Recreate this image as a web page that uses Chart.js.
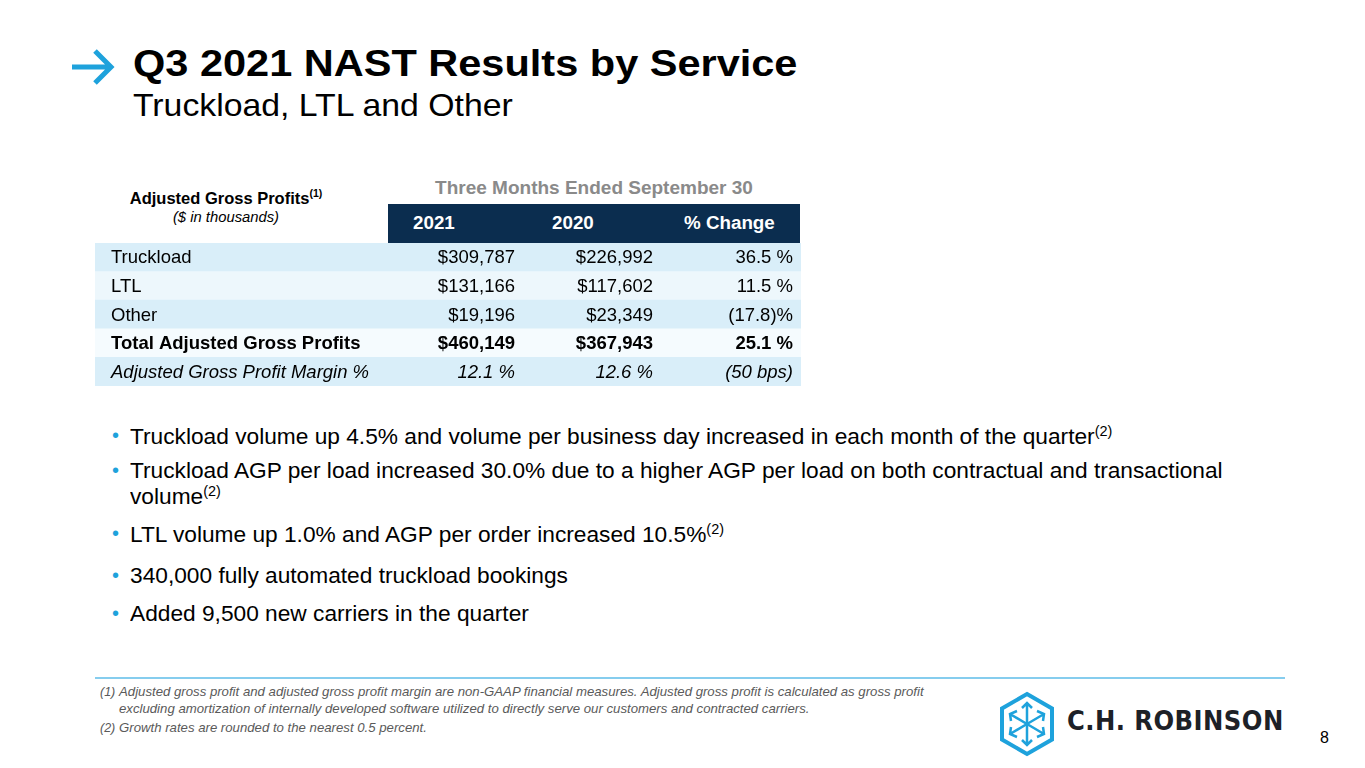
<!DOCTYPE html>
<html lang="en">
<head>
    <meta charset="UTF-8">
    <title>Q3 2021 NAST Results by Service</title>
    <script src="https://cdn.jsdelivr.net/npm/chart.js@4.4.1/dist/chart.umd.min.js"></script>
    <style>
        body {
            margin: 0;
            width: 1365px;
            height: 768px;
            background: #ffffff;
            font-family: "Liberation Sans", Arial, sans-serif;
            color: #000;
            position: relative;
            overflow: hidden;
        }
        .abs { position: absolute; white-space: nowrap; }
        .wide { transform-origin: left center; }
        .title { left: 133px; top: 43px; font-size: 36px; font-weight: bold; transform: scaleX(1.153); }
        .subtitle { left: 133px; top: 88px; font-size: 30.5px; transform: scaleX(1.107); }
        .hdr-left { left: 95px; width: 262px; text-align: center; top: 187px; font-size: 16.5px; font-weight: bold; }
        .hdr-left sup { font-size: 10.5px; }
        .hdr-sub { left: 95px; width: 262px; text-align: center; top: 209px; font-size: 14.8px; font-style: italic; }
        .hdr-top { left: 388px; width: 412px; text-align: center; top: 177px; font-size: 19px; font-weight: bold; color: #8a8a8a; }
        .navy { left: 388px; top: 204px; width: 412px; height: 39px; background: #0b2d4f; }
        .navy span { position: absolute; top: 8px; color: #fff; font-weight: bold; font-size: 18.8px; }
        #tableWrap { position: absolute; left: 95px; top: 243px; width: 706px; height: 143px; }
        .bullet { left: 112px; font-size: 22px; color: #000; }
        .bullet b { color: #1ea2dc; font-weight: normal; position: absolute; left: 0; font-size: 20px; top: 1px; }
        .bullet span { position: absolute; left: 18px; transform: scaleX(1.032); transform-origin: left center; }
        .bullet sup { font-size: 14px; }
        .rule { left: 95px; top: 677px; width: 1190px; height: 2px; background: #86cdee; }
        .note { font-size: 13.2px; font-style: italic; color: #5a5a5a; left: 100px; }
        .note i { font-size: 12.5px; }
        .note span { position: absolute; left: 19px; }
        .logo-text { left: 1067px; top: 705px; font-family: "DejaVu Sans", sans-serif; font-weight: bold; font-size: 27px; color: #1d2127; letter-spacing: 0.5px; transform: scaleX(0.9); transform-origin: left; }
        .page { left: 1320px; top: 729px; font-size: 16px; }
    </style>
</head>
<body>
    <svg class="abs" style="left:68px;top:48px" width="50" height="38" viewBox="0 0 50 38">
        <path d="M4 19 H43 M27 3 L43 19 L27 35" fill="none" stroke="#1ea2dc" stroke-width="5"/>
    </svg>
    <div class="abs wide title">Q3 2021 NAST Results by Service</div>
    <div class="abs wide subtitle">Truckload, LTL and Other</div>

    <div class="abs hdr-left">Adjusted Gross Profits<sup>(1)</sup></div>
    <div class="abs hdr-sub">($ in thousands)</div>
    <div class="abs hdr-top">Three Months Ended September 30</div>
    <div class="abs navy">
        <span style="left:25px">2021</span>
        <span style="left:164px">2020</span>
        <span style="left:296px">% Change</span>
    </div>

    <div id="tableWrap"><canvas id="chart" width="706" height="143"></canvas></div>

    <div class="abs bullet" style="top:423px"><b>•</b><span>Truckload volume up 4.5% and volume per business day increased in each month of the quarter<sup>(2)</sup></span></div>
    <div class="abs bullet" style="top:458px"><b>•</b><span>Truckload AGP per load increased 30.0% due to a higher AGP per load on both contractual and transactional</span></div>
    <div class="abs bullet" style="top:483px"><span>volume<sup>(2)</sup></span></div>
    <div class="abs bullet" style="top:521px"><b>•</b><span>LTL volume up 1.0% and AGP per order increased 10.5%<sup>(2)</sup></span></div>
    <div class="abs bullet" style="top:563px"><b>•</b><span>340,000 fully automated truckload bookings</span></div>
    <div class="abs bullet" style="top:601px"><b>•</b><span>Added 9,500 new carriers in the quarter</span></div>

    <div class="abs rule"></div>
    <div class="abs note" style="top:684px"><i>(1)</i><span>Adjusted gross profit and adjusted gross profit margin are non-GAAP financial measures. Adjusted gross profit is calculated as gross profit</span></div>
    <div class="abs note" style="top:701px"><span>excluding amortization of internally developed software utilized to directly serve our customers and contracted carriers.</span></div>
    <div class="abs note" style="top:720px"><i>(2)</i><span>Growth rates are rounded to the nearest 0.5 percent.</span></div>

    <svg class="abs" style="left:998px;top:691px" width="58" height="66" viewBox="0 0 58 66">
        <g fill="none" stroke="#1ea2dc" stroke-width="4">
            <path d="M29 3 L54 17.5 V48.5 L29 63 L4 48.5 V17.5 Z"/>
        </g>
        <g fill="none" stroke="#1ea2dc" stroke-width="2.5">
            <path d="M29 33 V12 M24 17 L29 12 L34 17"/>
            <path d="M29 33 L12 23 M13 30 L12 23 L19 20"/>
            <path d="M29 33 L46 23 M39 20 L46 23 L45 30"/>
            <path d="M29 33 L12 43 M19 46 L12 43 L13 36"/>
            <path d="M29 33 L46 43 M45 36 L46 43 L39 46"/>
            <path d="M29 33 V54 M24 49 L29 54 L34 49"/>
        </g>
    </svg>
    <div class="abs logo-text">C.H. ROBINSON</div>
    <div class="abs page">8</div>

    <script>
        // table contents
        const rowLabels = ["Truckload", "LTL", "Other", "Total Adjusted Gross Profits", "Adjusted Gross Profit Margin %"];
        const values2021 = ["$309,787", "$131,166", "$19,196", "$460,149", "12.1 %"];
        const values2020 = ["$226,992", "$117,602", "$23,349", "$367,943", "12.6 %"];
        const pctChange = ["36.5 %", "11.5 %", "(17.8)%", "25.1 %", "(50 bps)"];
        const rowStyles = ["normal", "normal", "normal", "bold", "italic"];

        const rowColors = ["#d9eef9", "#edf7fc", "#d9eef9", "#f5fbfe", "#d9eef9"];

        const cellText = {
            id: "cellText",
            afterDatasetsDraw(chart) {
                const c = chart.ctx;
                const y = chart.scales.y;
                const cols = [values2021, values2020, pctChange];
                const rightEdges = [420, 558, 698];
                c.save();
                c.fillStyle = "#000";
                c.textBaseline = "middle";
                rowLabels.forEach((label, i) => {
                    const py = y.getPixelForValue(i) + 1;
                    c.font = rowStyles[i] + " 18.5px 'Liberation Sans', Arial, sans-serif";
                    c.textAlign = "left";
                    c.fillText(label, 16, py);
                    c.textAlign = "right";
                    cols.forEach((col, k) => c.fillText(col[i], rightEdges[k], py));
                });
                c.restore();
            }
        };

        let ctx = document.getElementById("chart").getContext("2d");

        let chart = new Chart(ctx, {
            type: "bar",
            data: {
                labels: rowLabels,
                datasets: [
                    {
                        data: rowLabels.map(() => 1),
                        backgroundColor: rowColors,
                        borderWidth: 0,
                        barPercentage: 1,
                        categoryPercentage: 1
                    }
                ]
            },
            options: {
                indexAxis: "y",
                responsive: false,
                animation: false,
                devicePixelRatio: 1,
                layout: { padding: 0 },
                scales: {
                    x: { display: false, min: 0, max: 1 },
                    y: { display: false }
                },
                plugins: {
                    legend: { display: false },
                    tooltip: { enabled: false }
                }
            },
            plugins: [cellText]
        });
    </script>
</body>
</html>
